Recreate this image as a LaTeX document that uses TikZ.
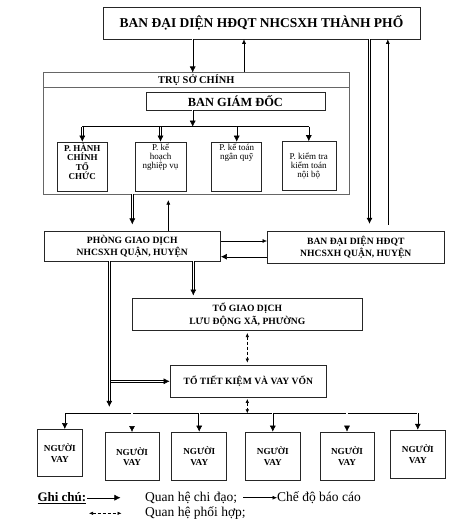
\documentclass[tikz,border=0pt]{standalone}
\usepackage{fontspec}
\setmainfont{Liberation Serif}
\usetikzlibrary{arrows.meta,positioning}

% noi dung o phong: rong, can doc, chu
\newcommand{\noidung}[3]{\parbox[c][45pt][#2]{#1}{\centering #3}}

\begin{document}
\begin{tikzpicture}[x=1pt,y=-1pt,
    every node/.style={inner sep=0pt, align=center},
    hop/.style={
        draw=black!85,
        line width=0.6pt,
        font=\bfseries\fontsize{9.6}{12.5}\selectfont
      },
    phong/.style={
        hop,
        inner sep=2pt,
        font=\fontsize{9}{9.2}\selectfont
      },
    nguoivay/.style={
        hop,
        minimum height=48pt,
        font=\bfseries\fontsize{9.2}{10.5}\selectfont
      },
    chidao/.style={double, double distance=1.3pt, line width=0.55pt, -{Latex[length=6pt,width=6pt]}},
    baocao/.style={line width=0.55pt, -{Latex[length=4.5pt,width=4pt]}},
    phoihop/.style={line width=0.55pt, densely dashed, {Latex[length=4pt,width=3.5pt]}-{Latex[length=4pt,width=3.5pt]}},
    chuthich/.style={anchor=west, font=\fontsize{13.5}{15}\selectfont},
  ]
  \useasboundingbox (0,0) rectangle (473,524);

  % Thanh pho
  \node[hop, minimum width=317pt, minimum height=32pt, font=\bfseries\fontsize{13.5}{15}\selectfont] (tp) at (261.5,23) {BAN ĐẠI DIỆN HĐQT NHCSXH THÀNH PHỐ};

  % Tru so chinh
  \node[draw=black!60, line width=0.6pt, minimum width=306pt, minimum height=121pt] (tsc) at (196.3,133.3) {};
  \node[font=\bfseries\fontsize{10.4}{12}\selectfont] (tsctieude) at (196.3,80.2) {TRỤ SỞ CHÍNH};
  \coordinate (vach) at (196.3,87.7);
  \draw[black!60, line width=0.6pt] (vach -| tsc.west) -- (vach -| tsc.east);
  \node[hop, minimum width=179pt, minimum height=17.5pt, font=\bfseries\fontsize{12.4}{14}\selectfont] (bgd) at (235.4,101.4) {BAN GIÁM ĐỐC};

  \node[phong, font=\bfseries\fontsize{9}{9.2}\selectfont] (p1) at (82.3,166.5) {\noidung{46pt}{t}{P. HÀNH\\CHÍNH\\TỔ\\CHỨC}};
  \node[phong] (p2) at (160.5,166.5) {\noidung{47pt}{t}{P. kế\\hoạch\\nghiệp vụ}};
  \node[phong] (p3) at (236.7,166.5) {\noidung{46pt}{t}{P. kế toán\\ngân quỹ}};
  \node[phong] (p4) at (308.8,166) {\noidung{50pt}{c}{P. kiểm tra\\kiểm toán\\nội bộ}};

  \coordinate (nhanh) at (192.7,126.7);
  \draw[chidao] (bgd.south -| nhanh) -- (nhanh);
  \draw[line width=0.9pt] (nhanh -| p1.north) -- (nhanh -| p4.north);
  \foreach \p in {p1,p2,p3,p4}
    \draw[chidao] (nhanh -| \p.north) -- (\p.north);

  % Quan, huyen
  \node[hop, minimum width=176.7pt, minimum height=29.3pt] (pgd) at (132.3,246.4) {PHÒNG GIAO DỊCH\\NHCSXH QUẬN, HUYỆN};
  \node[hop, minimum width=177pt, minimum height=32.3pt] (bdq) at (355.8,247.2) {BAN ĐẠI DIỆN HĐQT\\NHCSXH QUẬN, HUYỆN};

  \coordinate (xuong1) at ([xshift=-3.6pt]tsc.north);
  \draw[chidao] (xuong1 |- tp.south) -- (xuong1);
  \coordinate (len1) at ([xshift=47.7pt]tsc.north);
  \draw[baocao] (len1) -- (len1 |- tp.south);

  \coordinate (xuong2) at ([xshift=13.7pt]bdq.north);
  \draw[chidao, shorten >=7pt] (xuong2 |- tp.south) -- (xuong2);
  \coordinate (len2) at ([xshift=32pt]bdq.north);
  \draw[baocao, shorten <=6pt] (len2) -- (len2 |- tp.south);

  \draw[chidao, shorten >=7pt] (pgd.north |- tsc.south) -- (pgd.north);
  \coordinate (len3) at ([xshift=36pt]pgd.north);
  \draw[baocao, shorten >=6pt] (len3) -- (len3 |- tsc.south);

  \coordinate (ngang1) at ([yshift=5.4pt]pgd.east);
  \draw[baocao] (ngang1) -- (ngang1 -| bdq.west);
  \coordinate (ngang2) at ([yshift=-10.3pt]pgd.east);
  \draw[chidao] (ngang2 -| bdq.west) -- (ngang2);

  % Xa, phuong
  \node[hop, minimum width=230pt, minimum height=32.4pt] (tgd) at (247.3,314.5) {TỔ GIAO DỊCH\\LƯU ĐỘNG XÃ, PHƯỜNG};
  \node[hop, minimum width=156.7pt, minimum height=32.7pt] (ttk) at (248.3,381.3) {TỔ TIẾT KIỆM VÀ VAY VỐN};

  \coordinate (xuong3) at ([xshift=61pt]pgd.south);
  \draw[chidao, shorten >=2.5pt] (xuong3) -- (xuong3 |- tgd.north);
  \draw[phoihop, shorten <=2pt, shorten >=2pt] (tgd.south) -- (tgd.south |- ttk.north);

  \coordinate (doc) at ([xshift=-23pt]pgd.south);
  \coordinate (truc) at (247.3,413.3);
  \draw[chidao] (doc |- ttk.west) -- (ttk.west);
  \draw[chidao, shorten >=6.5pt] (doc) -- (doc |- truc);
  \draw[phoihop, shorten <=1pt] (ttk.south -| truc) -- (truc);

  % Nguoi vay
  \node[nguoivay, minimum width=45pt, minimum height=47.4pt] (nv1) at (59.8,453) {NGƯỜI\\VAY};
  \node[nguoivay, minimum width=54pt, minimum height=48.4pt] (nv2) at (132,456.5) {NGƯỜI\\VAY};
  \node[nguoivay, minimum width=55pt] (nv3) at (199.2,456) {NGƯỜI\\VAY};
  \node[nguoivay, minimum width=54.3pt] (nv4) at (272.8,456) {NGƯỜI\\VAY};
  \node[nguoivay, minimum width=54pt] (nv5) at (347,456) {NGƯỜI\\VAY};
  \node[nguoivay, minimum width=54.3pt, minimum height=48.3pt] (nv6) at (417.8,454.2) {NGƯỜI\\VAY};

  \coordinate (dau) at ([xshift=5pt]nv1.north);
  \draw[line width=0.9pt] (dau |- truc) -- (truc -| nv6.north);
  \draw[chidao] (dau |- truc) -- (dau);
  \foreach \n in {nv2,nv3,nv4,nv5,nv6}
    \draw[chidao] (truc -| \n.north) -- (\n.north);

  % Ghi chu
  \node[anchor=west, font=\bfseries\fontsize{13}{15}\selectfont] (ghichu) at (37.3,497.7) {\underline{Ghi chú:}};
  \draw[chidao] ([xshift=1pt]ghichu.east) -- ++(33,0);
  \node[chuthich] (cd) at (145,497.7) {Quan hệ chi đạo;};
  \node[chuthich] (bc) at (277,497.7) {Chế độ báo cáo};
  \draw[baocao] ([xshift=-34pt]bc.west) -- (bc.west);
  \node[chuthich] (ph) at (145,513.3) {Quan hệ phối hợp;};
  \draw[phoihop] ([xshift=-56pt]ph.west) -- ([xshift=-23.5pt]ph.west);
\end{tikzpicture}
\end{document}
